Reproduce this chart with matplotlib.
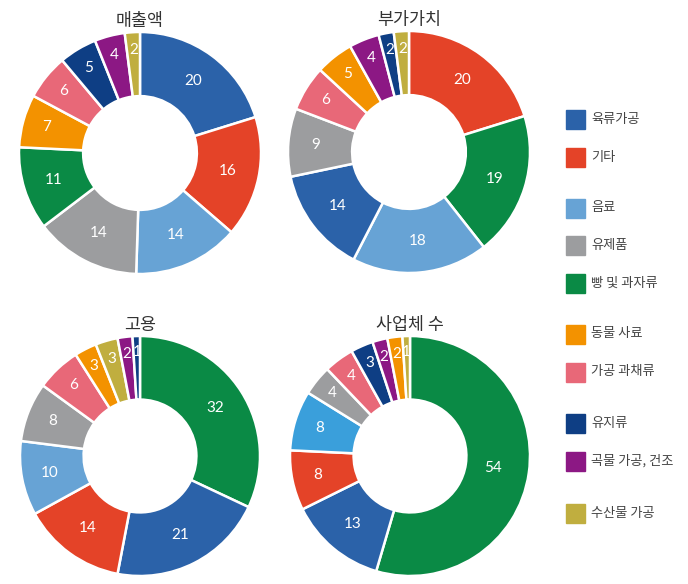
import matplotlib
matplotlib.use('Agg')
import matplotlib.pyplot as plt
from matplotlib.patches import Rectangle
import numpy as np

plt.rcParams['font.family'] = ['Noto Sans CJK KR', 'DejaVu Sans']

# categories and colours (legend order)
categories = ['육류가공', '기타', '음료', '유제품', '빵 및 과자류',
              '동물 사료', '가공 과채류', '유지류', '곡물 가공, 건조', '수산물 가공']
colors = {'육류가공': '#2b62a9', '기타': '#e44328', '음료': '#67a3d5',
          '유제품': '#9c9d9f', '빵 및 과자류': '#0a8a45', '동물 사료': '#f39200',
          '가공 과채류': '#e86878', '유지류': '#0e3e84', '곡물 가공, 건조': '#8c1884',
          '수산물 가공': '#c0ae3f'}

# each chart, clockwise from 12 o'clock
sales_cats = ['육류가공', '기타', '음료', '유제품', '빵 및 과자류', '동물 사료',
              '가공 과채류', '유지류', '곡물 가공, 건조', '수산물 가공']
sales_vals = [20, 16, 14, 14, 11, 7, 6, 5, 4, 2]

value_cats = ['기타', '빵 및 과자류', '음료', '육류가공', '유제품', '가공 과채류',
              '동물 사료', '곡물 가공, 건조', '유지류', '수산물 가공']
value_vals = [20, 19, 18, 14, 9, 6, 5, 4, 2, 2]

jobs_cats = ['빵 및 과자류', '육류가공', '기타', '음료', '유제품', '가공 과채류',
             '동물 사료', '수산물 가공', '곡물 가공, 건조', '유지류']
jobs_vals = [32, 21, 14, 10, 8, 6, 3, 3, 2, 1]

firms_cats = ['빵 및 과자류', '육류가공', '기타', '음료', '유제품', '가공 과채류',
              '유지류', '곡물 가공, 건조', '동물 사료', '수산물 가공']
firms_vals = [54, 13, 8, 8, 4, 4, 3, 2, 2, 1]

titles = ['매출액', '부가가치', '고용', '사업체 수']

W, H = 688, 584
fig = plt.figure(figsize=(W / 100, H / 100), dpi=100)

charts = [(sales_cats, sales_vals, 140, 153, 121),
          (value_cats, value_vals, 409, 152, 121),
          (jobs_cats, jobs_vals, 140, 456, 120),
          (firms_cats, firms_vals, 410, 456, 120)]

for (cats, vals, cx, cy, r), title in zip(charts, titles):
    ax = fig.add_axes([(cx - r) / W, (H - cy - r) / H, 2 * r / W, 2 * r / H])
    cols = [colors[c] for c in cats]
    if title == '사업체 수':
        cols[cats.index('음료')] = '#3a9fdb'
    ax.pie(vals, colors=cols, startangle=90, counterclock=False, radius=1,
           wedgeprops=dict(width=0.53, edgecolor='white', linewidth=1.8))
    # value labels; thin wedges get their number pushed outward
    tot = float(sum(vals))
    ang = 90.0
    for v in vals:
        frac = v / tot
        mid = np.deg2rad(ang - frac * 180.0)
        dist = 0.74 + 0.14 * max(0.0, 1 - frac / 0.12)
        if frac > 0.4:
            dist = 0.70
        ax.text(dist * np.cos(mid), dist * np.sin(mid), str(v),
                ha='center', va='center', color='white', fontsize=11,
                family=['Lato', 'DejaVu Sans'])
        ang -= frac * 360.0
    ax.set_xlim(-1, 1)
    ax.set_ylim(-1, 1)
    ax.set_title(title, fontsize=12.5, color='#333333', pad=4)

# legend, drawn by hand with the grouped spacing
leg_y = [119, 157, 208, 245, 283, 334, 372, 423, 461, 513]
for cat, y in zip(categories, leg_y):
    fig.patches.append(Rectangle((566 / W, (H - y - 9.5) / H), 19 / W, 19 / H,
                                 transform=fig.transFigure, color=colors[cat]))
    fig.text(591 / W, (H - y) / H, cat, fontsize=9.5, color='#444444',
             va='center', ha='left')

fig.savefig('out.png', dpi=100, facecolor='white')
